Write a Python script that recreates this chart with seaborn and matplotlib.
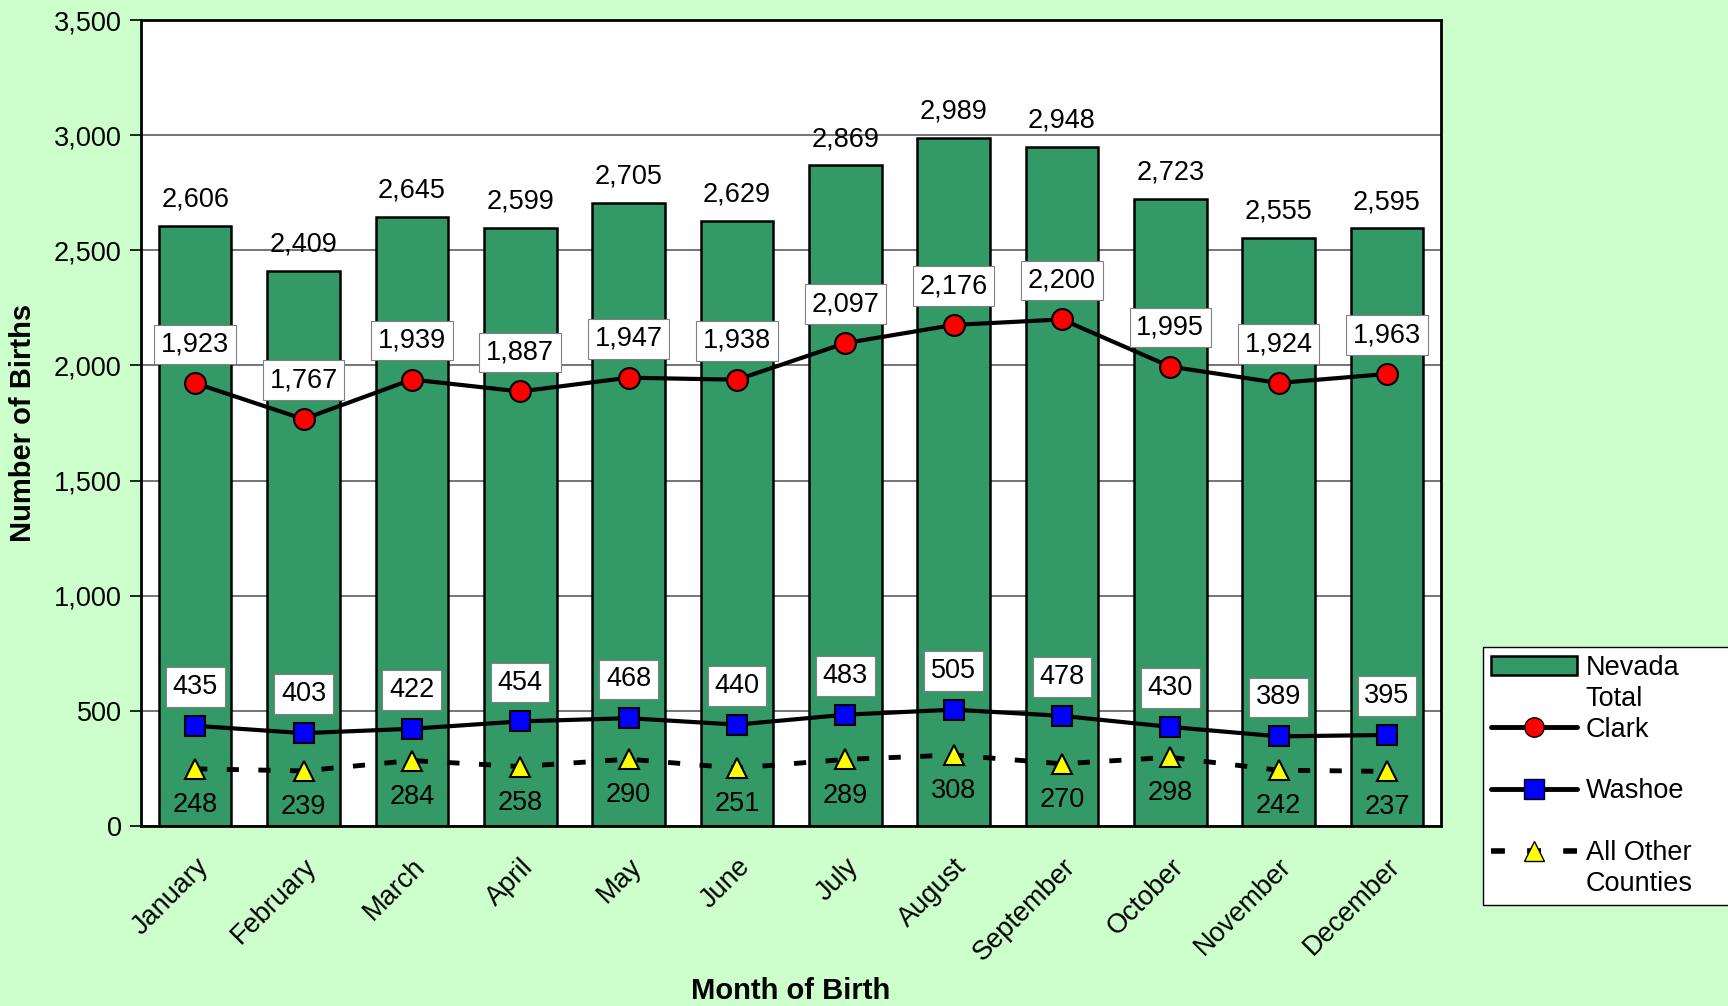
import numpy as np
import pandas as pd
import matplotlib
matplotlib.use("Agg")
import matplotlib.pyplot as plt
import seaborn as sns
from matplotlib.lines import Line2D
from matplotlib.patches import Patch

# Data
months = ["January", "February", "March", "April", "May", "June",
          "July", "August", "September", "October", "November", "December"]
nevada_total = [2606, 2409, 2645, 2599, 2705, 2629, 2869, 2989, 2948, 2723, 2555, 2595]
clark = [1923, 1767, 1939, 1887, 1947, 1938, 2097, 2176, 2200, 1995, 1924, 1963]
washoe = [435, 403, 422, 454, 468, 440, 483, 505, 478, 430, 389, 395]
other = [248, 239, 284, 258, 290, 251, 289, 308, 270, 298, 242, 237]

df = pd.DataFrame({"month": months, "total": nevada_total,
                   "clark": clark, "washoe": washoe, "other": other})

BG = "#CCFFCC"
BAR = "#339966"

sns.set_style("white")
plt.rcParams["font.family"] = ["Liberation Sans", "DejaVu Sans"]
plt.rcParams["text.color"] = "black"
plt.rcParams["axes.labelcolor"] = "black"
plt.rcParams["xtick.color"] = "black"
plt.rcParams["ytick.color"] = "black"

fig = plt.figure(figsize=(17.28, 10.06), dpi=100, facecolor=BG)
ax = fig.add_axes([0.0816, 0.179, 0.7524, 0.801])
ax.set_facecolor("white")

sns.barplot(data=df, x="month", y="total", color=BAR, width=0.67,
            edgecolor="black", linewidth=1.8, saturation=1, ax=ax, zorder=2)

pos = np.arange(len(months))
ax.plot(pos, df["clark"], color="black", lw=3, marker="o", ms=15,
        mfc="#FF0000", mec="black", mew=1.5, zorder=4)
ax.plot(pos, df["washoe"], color="black", lw=3, marker="s", ms=15,
        mfc="#0000FF", mec="black", mew=1.5, zorder=4)
ax.plot(pos, df["other"], color="black", lw=3.5, ls=(0, (2.5, 4)), marker="^", ms=15,
        mfc="#FFFF00", mec="black", mew=1.5, zorder=4)

fs = 19.5
box = dict(boxstyle="square,pad=0.25", fc="white", ec="#808080", lw=0.8)
for i in pos:
    ax.annotate(f"{nevada_total[i]:,}", (i, nevada_total[i]), xytext=(0, 19),
                textcoords="offset points", ha="center", va="center", fontsize=fs, zorder=5)
    ax.annotate(f"{clark[i]:,}", (i, clark[i]), xytext=(0, 28),
                textcoords="offset points", ha="center", va="center", fontsize=fs,
                bbox=box, zorder=5)
    ax.annotate(f"{washoe[i]:,}", (i, washoe[i]), xytext=(0, 28),
                textcoords="offset points", ha="center", va="center", fontsize=fs,
                bbox=box, zorder=5)
    ax.annotate(f"{other[i]:,}", (i, other[i]), xytext=(0, -26),
                textcoords="offset points", ha="center", va="center", fontsize=fs, zorder=5)

ax.set_ylim(0, 3500)
ax.set_xlim(-0.5, len(months) - 0.5)
ax.set_yticks(np.arange(0, 3501, 500))
ax.set_yticklabels([f"{v:,}" for v in range(0, 3501, 500)], fontsize=fs)
ax.yaxis.grid(True, color="#505050", lw=1.1, zorder=0)
ax.set_axisbelow(True)

ax.set_xticks(pos)
ax.set_xticklabels(months, rotation=45, ha="right", rotation_mode="anchor", fontsize=fs)
ax.set_xticks(np.arange(-0.5, len(months)), minor=True)
ax.tick_params(axis="x", which="major", length=0, pad=20)
ax.tick_params(axis="x", which="minor", length=8, width=1.2, color="black", direction="out")
ax.tick_params(axis="y", length=8, width=1.2, color="black", direction="out", left=True, pad=6)

for s in ax.spines.values():
    s.set_visible(True)
    s.set_color("black")
    s.set_linewidth(2)

ax.set_xlabel("Month of Birth", fontsize=21, fontweight="bold", labelpad=8)
ax.set_ylabel("Number of Births", fontsize=21, fontweight="bold", labelpad=12)

# legend rows laid out one text line each, like the original
blank = Line2D([], [], alpha=0)
handles = [
    Patch(facecolor=BAR, edgecolor="black", lw=1.8),
    blank,
    Line2D([], [], color="black", lw=3.5, marker="o", ms=14, mfc="#FF0000", mec="black"),
    blank,
    Line2D([], [], color="black", lw=3.5, marker="s", ms=14, mfc="#0000FF", mec="black"),
    blank,
    Line2D([], [], color="black", lw=4, ls=(0, (2.5, 4)), marker="^", ms=14,
           mfc="#FFFF00", mec="black"),
    blank,
]
labels = ["Nevada", "Total", "Clark", " ", "Washoe", " ", "All Other", "Counties"]
leg = fig.legend(handles, labels, loc="upper left",
                 bbox_to_anchor=(0.858, 0.0, 0.16, 0.357), mode="expand",
                 fontsize=fs, frameon=True, fancybox=False, edgecolor="black",
                 facecolor="white", framealpha=1, handlelength=3.2, handletextpad=0.3,
                 labelspacing=0.18, borderpad=0.3, borderaxespad=0)
leg.get_frame().set_linewidth(1)

fig.savefig("out.png", dpi=100, facecolor=BG)
